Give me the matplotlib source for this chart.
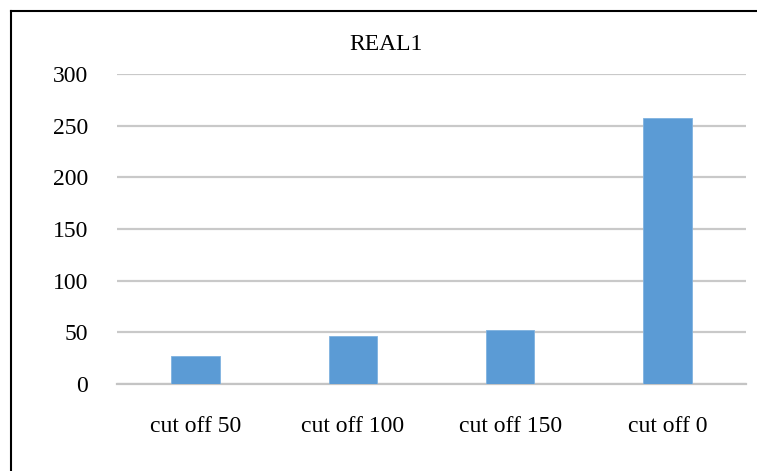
import matplotlib.pyplot as plt
from matplotlib.lines import Line2D
import numpy as np

categories = ["cut off 50", "cut off 100", "cut off 150", "cut off 0"]
values = [27, 46, 52, 257]
yticks = [0, 50, 100, 150, 200, 250, 300]

plt.rcParams['font.family'] = ['Liberation Serif', 'DejaVu Serif']

W, H = 757, 471
fig = plt.figure(figsize=(W / 100, H / 100), dpi=100)
ax = fig.add_axes([117 / W, (H - 384) / H, (746 - 117) / W, (384 - 74) / H])

x = np.arange(len(categories))
ax.bar(x, values, width=0.31, color='#5B9BD5', edgecolor='#7FB2E0', linewidth=0.6, zorder=3)

ax.set_xlim(-0.5, len(categories) - 0.5)
ax.set_ylim(0, 300)
ax.set_yticks(yticks)
ax.set_xticks(x)
ax.set_xticklabels(categories)
ax.tick_params(axis='both', length=0, labelsize=17, colors='black')
ax.tick_params(axis='y', pad=21)
ax.tick_params(axis='x', pad=23)
ax.grid(axis='y', color='#C9C9C9', linewidth=1.6, zorder=0)

for side in ['top', 'right', 'left']:
    ax.spines[side].set_visible(False)
ax.spines['bottom'].set_color('#C4C4C4')
ax.spines['bottom'].set_linewidth(1.6)

fig.text(386 / W, (H - 50) / H, "REAL1", ha='center', va='baseline', fontsize=17)

# chart frame (only left and top edges fall inside the image)
fig.add_artist(Line2D([11 / W, 11 / W], [0, (H - 11) / H], transform=fig.transFigure,
                      color='black', linewidth=1.5))
fig.add_artist(Line2D([11 / W, 1], [(H - 11) / H, (H - 11) / H], transform=fig.transFigure,
                      color='black', linewidth=1.5))

fig.savefig('out.png', dpi=100)
